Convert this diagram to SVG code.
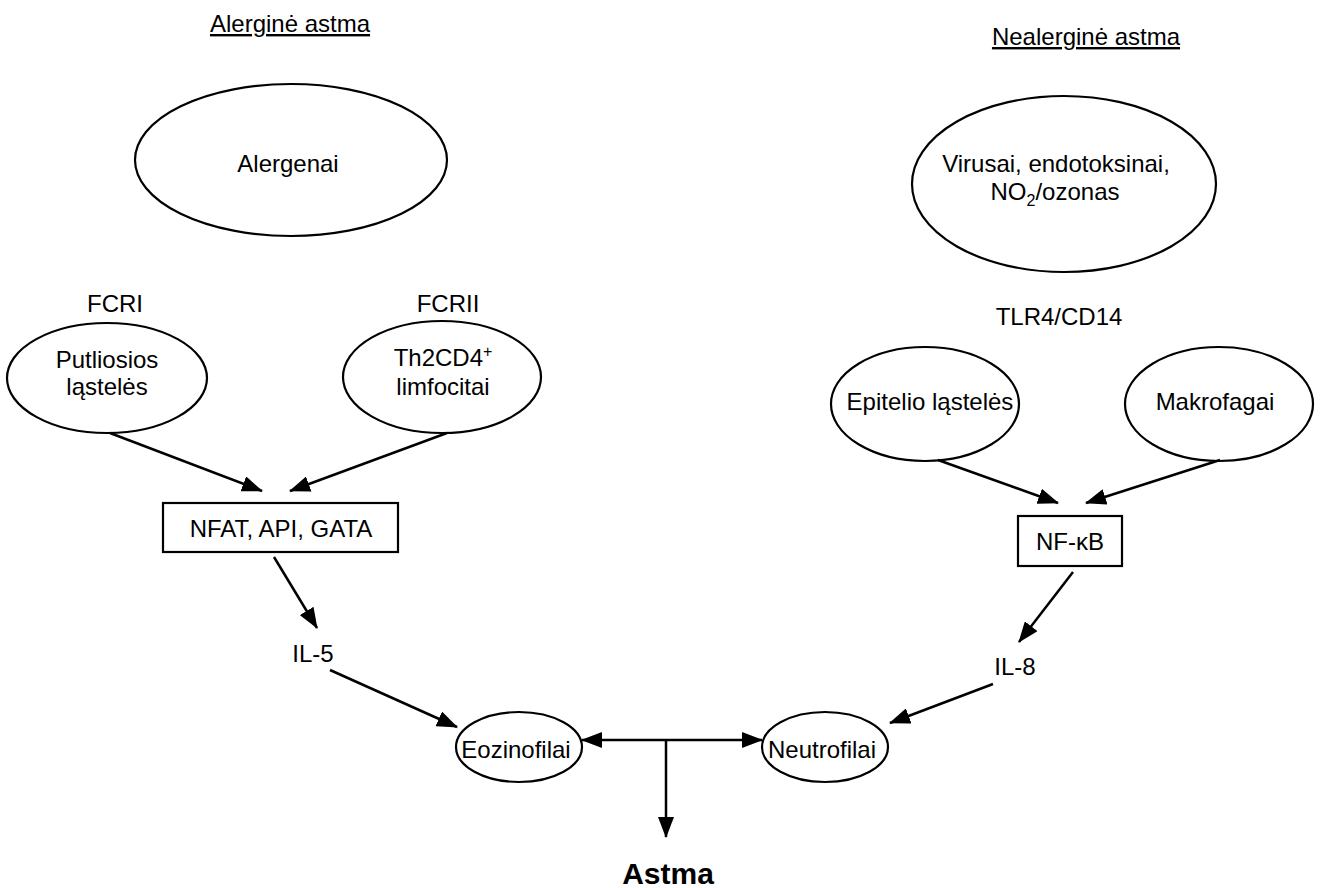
<svg xmlns="http://www.w3.org/2000/svg" width="1344" height="888" viewBox="0 0 1344 888">
<defs>
<marker id="ah" markerUnits="userSpaceOnUse" markerWidth="21" markerHeight="16" refX="20" refY="8" orient="auto">
<path d="M0,0 L21,8 L0,16 Z" fill="#000"/>
</marker>
<marker id="ahs" markerUnits="userSpaceOnUse" markerWidth="21" markerHeight="16" refX="20" refY="8" orient="auto-start-reverse">
<path d="M0,0 L21,8 L0,16 Z" fill="#000"/>
</marker>
<style>
text{font-family:"Liberation Sans",Arial,sans-serif;font-size:24px;fill:#000;text-anchor:middle}
.shape{fill:#fff;stroke:#000;stroke-width:2.2}
.edge{stroke:#000;stroke-width:2.5;fill:none;marker-end:url(#ah)}
.title{text-decoration:underline}
.bold{font-weight:bold;font-size:30px}
</style>
</defs>
<rect width="1344" height="888" fill="#fff"/>
<g id="title-left"><text class="title" x="290" y="32">Alerginė astma</text></g>
<g id="title-right"><text class="title" x="1086" y="45">Nealerginė astma</text></g>

<g id="alergenai"><ellipse class="shape" cx="291" cy="160" rx="156" ry="76"/><text x="288" y="172">Alergenai</text></g>
<g id="virusai"><ellipse class="shape" cx="1064" cy="184" rx="152" ry="88"/>
<text x="1056" y="172">Virusai, endotoksinai,</text>
<text x="1055" y="200">NO<tspan font-size="16" dy="6">2</tspan><tspan dy="-6">/ozonas</tspan></text></g>

<g id="fcri"><text x="115" y="312">FCRI</text></g>
<g id="fcrii"><text x="448" y="312">FCRII</text></g>
<g id="tlr4"><text x="1059" y="325">TLR4/CD14</text></g>

<g id="putliosios"><ellipse class="shape" cx="107" cy="378" rx="100" ry="55"/>
<text x="107" y="368">Putliosios</text><text x="107" y="395">ląstelės</text></g>
<g id="th2"><ellipse class="shape" cx="442" cy="377" rx="99" ry="56"/>
<text x="443" y="366">Th2CD4<tspan font-size="16" dy="-9">+</tspan></text><text x="443" y="395">limfocitai</text></g>

<g id="epitelio"><ellipse class="shape" cx="925" cy="404" rx="94" ry="57"/><text x="930" y="410">Epitelio ląstelės</text></g>
<g id="makrofagai"><ellipse class="shape" cx="1219" cy="404" rx="94" ry="57"/><text x="1215" y="410">Makrofagai</text></g>

<g id="nfat"><rect class="shape" x="163" y="503" width="235" height="49"/><text x="281" y="537">NFAT, API, GATA</text></g>
<g id="nfkb"><rect class="shape" x="1018" y="516" width="104" height="50"/><text x="1070" y="550">NF-κB</text></g>

<g id="il5"><text x="313" y="662">IL-5</text></g>
<g id="il8"><text x="1015" y="675">IL-8</text></g>

<g id="eozinofilai"><ellipse class="shape" cx="519" cy="747" rx="63" ry="35"/><text x="516" y="758">Eozinofilai</text></g>
<g id="neutrofilai"><ellipse class="shape" cx="825" cy="747" rx="63" ry="35"/><text x="822" y="758">Neutrofilai</text></g>

<g id="astma"><text class="bold" x="668" y="884">Astma</text></g>

<g id="connectors">
<line class="edge" x1="110" y1="433" x2="262" y2="491"/>
<line class="edge" x1="447" y1="433" x2="290" y2="491"/>
<line class="edge" x1="274" y1="557" x2="317" y2="628"/>
<line class="edge" x1="330" y1="670" x2="457" y2="727"/>
<line class="edge" x1="938" y1="460" x2="1058" y2="503"/>
<line class="edge" x1="1220" y1="460" x2="1086" y2="503"/>
<line class="edge" x1="1073" y1="572" x2="1019" y2="642"/>
<line class="edge" x1="993" y1="684" x2="890" y2="723"/>
<line x1="582" y1="740" x2="762" y2="740" stroke="#000" stroke-width="2.5" marker-start="url(#ahs)" marker-end="url(#ah)"/>
<line class="edge" x1="666" y1="740" x2="666" y2="837"/>
</g>
</svg>
